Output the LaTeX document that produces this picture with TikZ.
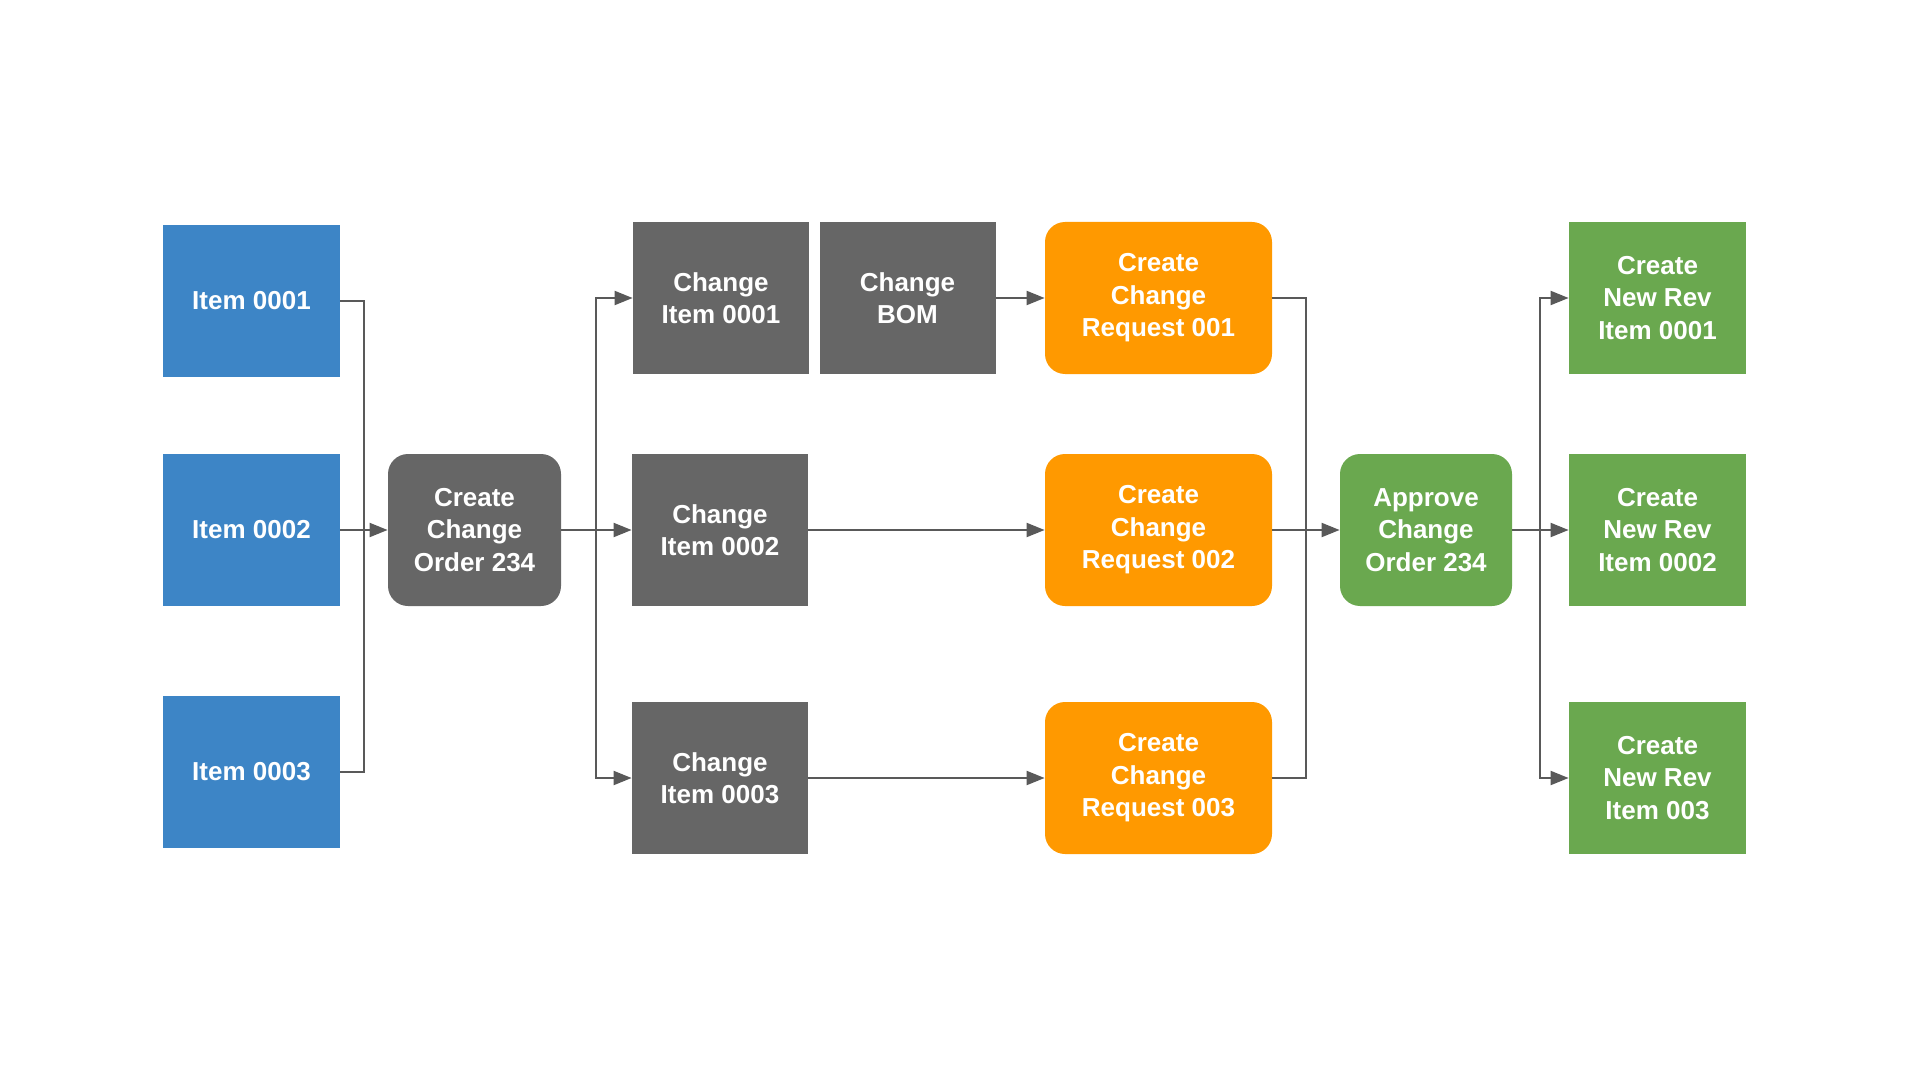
\documentclass[tikz,border=0pt]{standalone}
\usepackage{fontspec}
\setmainfont{Liberation Sans}
\usepackage{tikz}
\usetikzlibrary{arrows.meta,positioning}
\definecolor{ecoBlue}{HTML}{3D85C6}
\definecolor{ecoGray}{HTML}{666666}
\definecolor{ecoOrange}{HTML}{FF9900}
\definecolor{ecoGreen}{HTML}{6AA84F}
\definecolor{ecoLine}{HTML}{595959}
\tikzset{
 eco box/.style={draw=none,text=white,align=center,inner sep=0pt,
                 minimum height=76pt,
                 font=\bfseries\fontsize{13}{16.25}\selectfont},
 eco item/.style={eco box,fill=ecoBlue,minimum width=88.5pt},
 eco task/.style={eco box,fill=ecoGray,minimum width=88pt},
 eco order/.style={eco box,fill=ecoGray,minimum width=86.5pt,rounded corners=10pt},
 eco request/.style={eco box,fill=ecoOrange,minimum width=113.5pt,rounded corners=10pt},
 eco approve/.style={eco box,fill=ecoGreen,minimum width=86pt,rounded corners=10pt},
 eco rev/.style={eco box,fill=ecoGreen,minimum width=88.5pt},
 eco link/.style={draw=ecoLine,line width=1pt},
 eco arrow/.style={eco link,-{Triangle[length=9pt,width=7pt]}}
}
\begin{document}
\begin{tikzpicture}[x=0.5pt,y=-0.5pt]
 \useasboundingbox (0,0) rectangle (1920,1080);
 % source items
 \foreach \i/\y in {1/301,2/530,3/772}{
   \node[eco item] (item\i) at (251.5,\y) {Item 000\i};
 }
 \node[eco order] (cco) at (474.5,530) {Create\\Change\\Order 234};
 % change tasks
 \node[eco task] (chg1) at (721,298) {Change\\Item 0001};
 \node[eco task] (bom) at (907.5,298) {Change\\BOM};
 \node[eco task] (chg2) at (720,530) {Change\\Item 0002};
 \node[eco task] (chg3) at (720,778) {Change\\Item 0003};
 % requests
 \foreach \i/\y in {1/298,2/530,3/778}{
   \node[eco request] (req\i) at (1158.5,\y) {Create\\Change\\Request 00\i};
 }
 \node[eco approve] (appr) at (1426,530) {Approve\\Change\\Order 234};
 \foreach \i/\y/\t in {1/298/Item 0001,2/530/Item 0002,3/778/Item 003}{
   \node[eco rev] (rev\i) at (1657.5,\y) {Create\\New Rev\\\t};
 }
 % buses
 \coordinate (busA) at (364,530);
 \coordinate (busB) at (596,530);
 \coordinate (busC) at (1306,530);
 \coordinate (busD) at (1540,530);
 \draw[eco link] (item1.east) -| (busA);
 \draw[eco link] (item3.east) -| (busA);
 \draw[eco arrow] (item2.east) -- (cco.west);
 \foreach \t in {chg1,chg2,chg3}{
   \draw[eco arrow] (cco.east) -- (busB) |- (\t.west);
 }
 \draw[eco arrow] (bom.east) -- (req1.west);
 \draw[eco arrow] (chg2.east) -- (req2.west);
 \draw[eco arrow] (chg3.east) -- (req3.west);
 \draw[eco link] (req1.east) -| (busC);
 \draw[eco link] (req3.east) -| (busC);
 \draw[eco arrow] (req2.east) -- (appr.west);
 \foreach \t in {rev1,rev2,rev3}{
   \draw[eco arrow] (appr.east) -- (busD) |- (\t.west);
 }
\end{tikzpicture}
\end{document}
